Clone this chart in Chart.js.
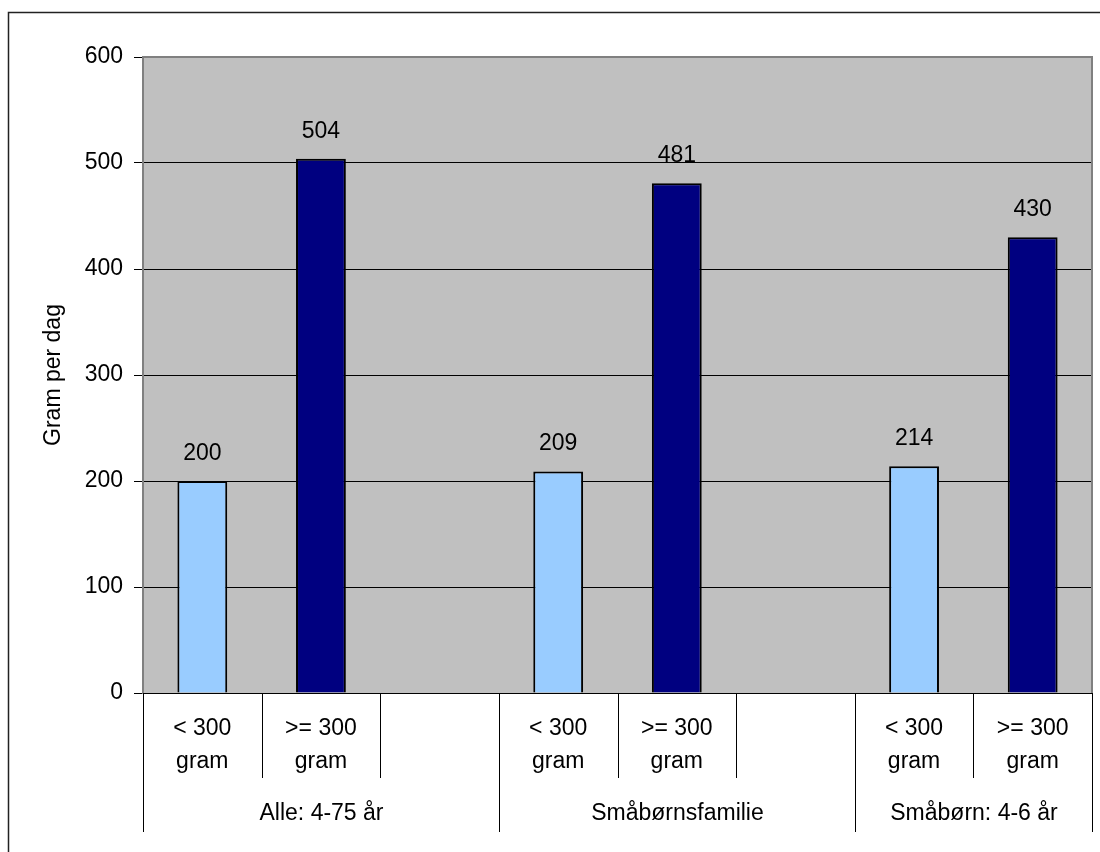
<!DOCTYPE html>
<html>
<head>
<meta charset="utf-8">
<script src="https://cdn.jsdelivr.net/npm/chart.js@4/dist/chart.umd.min.js"></script>
<style>
body{margin:0;background:#fff;}
canvas{display:block;}
</style>
</head>
<body>
<canvas id="chart" width="1100" height="852"></canvas>
<script>
// data
const labelsTop = ["< 300", ">= 300", "", "< 300", ">= 300", "", "< 300", ">= 300"];
const labelsBottom = ["gram", "gram", "", "gram", "gram", "", "gram", "gram"];
const values = [200, 504, null, 209, 481, null, 214, 430];
const barColors = ["#99CCFF", "#000080", "#000", "#99CCFF", "#000080", "#000", "#99CCFF", "#000080"];
const groups = ["Alle: 4-75 år", "Småbørnsfamilie", "Småbørn: 4-6 år"];
const groupStart = [0, 3, 6];
const groupEnd = [3, 6, 8];
const yTicks = [0, 100, 200, 300, 400, 500, 600];

const FONT = "Liberation Sans, Arial, sans-serif";
const FS = 23;

const framePlugin = {
  id: "frame",
  beforeDraw(chart){
    const {ctx, chartArea:a} = chart;
    ctx.save();
    ctx.fillStyle = "#C0C0C0";
    ctx.fillRect(a.left, a.top, a.right - a.left, a.bottom - a.top);
    // outer frame
    ctx.strokeStyle = "#222";
    ctx.lineWidth = 1.5;
    ctx.beginPath();
    ctx.moveTo(8.5, 852);
    ctx.lineTo(8.5, 12.5);
    ctx.lineTo(1100, 12.5);
    ctx.stroke();
    ctx.restore();
  },
  afterDatasetsDraw(chart){
    const {ctx, chartArea:a} = chart;
    ctx.save();
    ctx.strokeStyle = "#808080";
    ctx.lineWidth = 2;
    ctx.beginPath();
    ctx.moveTo(a.left, a.top);
    ctx.lineTo(a.right, a.top);
    ctx.lineTo(a.right, a.bottom);
    ctx.stroke();

    // value labels
    ctx.fillStyle = "#000";
    ctx.font = FS + "px " + FONT;
    ctx.textAlign = "center";
    ctx.textBaseline = "alphabetic";
    chart.getDatasetMeta(0).data.forEach((bar, i) => {
      if(values[i] == null) return;
      ctx.fillText(String(values[i]), bar.x, bar.y - 21);
    });
    ctx.restore();
  },
  afterDraw(chart){
    const {ctx, chartArea:a} = chart;
    const x = chart.scales.x;
    ctx.save();
    ctx.strokeStyle = "#000";
    ctx.lineWidth = 1;
    const bx = b => Math.round(x.getPixelForValue(b - 0.5)) + 0.5;
    const longB = [0, 3, 6, 8];
    for(let b = 0; b <= values.length; b++){
      const px = bx(b);
      const len = longB.includes(b) ? 139 : 85;
      ctx.beginPath();
      ctx.moveTo(px, a.bottom);
      ctx.lineTo(px, a.bottom + len);
      ctx.stroke();
    }
    ctx.fillStyle = "#000";
    ctx.font = FS + "px " + FONT;
    ctx.textAlign = "center";
    ctx.textBaseline = "alphabetic";
    labelsTop.forEach((t, i) => {
      const cx = x.getPixelForValue(i);
      ctx.fillText(t, cx, a.bottom + 42);
      ctx.fillText(labelsBottom[i], cx, a.bottom + 75);
    });
    groups.forEach((g, i) => {
      const cx = (bx(groupStart[i]) + bx(groupEnd[i])) / 2;
      ctx.fillText(g, cx, a.bottom + 127);
    });
    ctx.restore();
  }
};

new Chart(document.getElementById("chart"), {
  type: "bar",
  data: {
    labels: labelsTop,
    datasets: [{
      data: values,
      backgroundColor: barColors,
      borderColor: "#000",
      borderWidth: 2,
      categoryPercentage: 1,
      barPercentage: 0.42
    }]
  },
  options: {
    responsive: false,
    animation: false,
    devicePixelRatio: 1,
    layout: { padding: { top: 57, right: 8, left: 0, bottom: 0 } },
    plugins: { legend: { display: false }, tooltip: { enabled: false } },
    scales: {
      x: {
        ticks: { display: false },
        grid: { display: false },
        border: { display: true, color: "#000", width: 1 },
        afterFit(s){ s.height = 159; }
      },
      y: {
        min: 0,
        max: 600,
        afterBuildTicks(s){ s.ticks = yTicks.map(v => ({ value: v })); },
        ticks: {
          color: "#000",
          font: { family: FONT, size: FS },
          padding: 11
        },
        grid: {
          color: c => c.tick && c.tick.value === 600 ? "#808080" : "#000",
          tickColor: "#000",
          tickLength: 9,
          lineWidth: 1
        },
        border: { color: "#808080", width: 2 },
        title: {
          display: true,
          text: "Gram per dag",
          color: "#000",
          font: { family: FONT, size: FS },
          padding: { top: 40, bottom: 0 }
        },
        afterFit(s){ s.width = 143; }
      }
    }
  },
  plugins: [framePlugin]
});
</script>
</body>
</html>
